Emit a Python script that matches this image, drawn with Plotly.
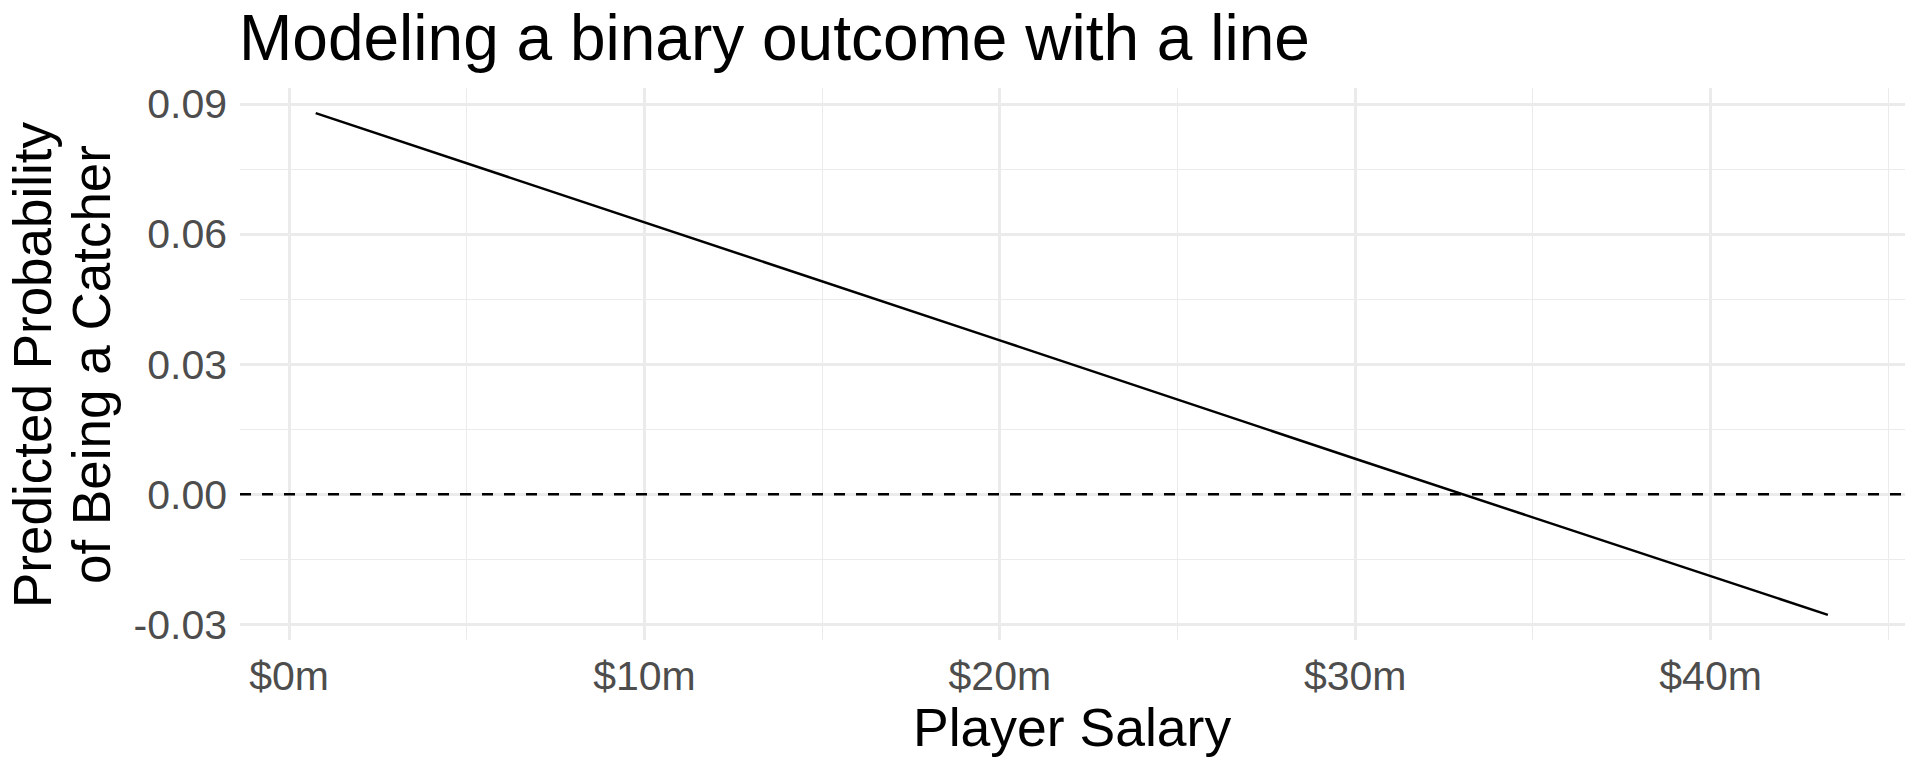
import plotly.graph_objects as go

# Data (salary in $ millions, predicted probability)
salary_m = [0.75, 10.0, 20.0, 30.0, 43.3]
pred_prob = [0.0879, 0.0628, 0.0355, 0.0082, -0.0278]

x_tickvals = [0, 10, 20, 30, 40]
x_ticktext = ["$0m", "$10m", "$20m", "$30m", "$40m"]
y_tickvals = [-0.03, 0.00, 0.03, 0.06, 0.09]
y_ticktext = ["-0.03", "0.00", "0.03", "0.06", "0.09"]
x_minor = [5, 15, 25, 35, 45]
y_minor = [-0.015, 0.015, 0.045, 0.075]

FONT = "Liberation Sans, Arial, Helvetica, sans-serif"
GRID = "#EBEBEB"

fig = go.Figure()
fig.add_trace(go.Scatter(x=salary_m, y=pred_prob, mode="lines",
                         line=dict(color="black", width=2.5), showlegend=False,
                         hoverinfo="skip"))

fig.add_hline(y=0, line=dict(color="black", width=2.5, dash="11px,11px"))

W, H = 1920, 768
L, R, T, B = 240, 15, 88, 128

fig.update_layout(
    width=W, height=H,
    margin=dict(l=L, r=R, t=T, b=B, pad=0),
    paper_bgcolor="white", plot_bgcolor="white",
    font=dict(family=FONT, color="black"),
    showlegend=False,
)

fig.update_xaxes(
    range=[-1.38, 45.47], tickvals=x_tickvals, ticktext=x_ticktext,
    showgrid=True, gridcolor=GRID, gridwidth=2.6, zeroline=False,
    showline=False, ticks="", ticklabelstandoff=8,
    tickfont=dict(family=FONT, size=41, color="#4D4D4D"),
    minor=dict(tickvals=x_minor, showgrid=True, gridcolor=GRID, gridwidth=1.3),
)
fig.update_yaxes(
    range=[-0.0336, 0.0937], tickvals=y_tickvals, ticktext=y_ticktext,
    showgrid=True, gridcolor=GRID, gridwidth=2.6, zeroline=False,
    showline=False, ticks="", ticklabelstandoff=12,
    tickfont=dict(family=FONT, size=41, color="#4D4D4D"),
    minor=dict(tickvals=y_minor, showgrid=True, gridcolor=GRID, gridwidth=1.3),
)

PW = W - L - R
PH = H - T - B

def px_x(p):
    return (p - L) / PW

def px_y(p):
    return 1 - (p - T) / PH

annotations = [
    dict(text="Modeling a binary outcome with a line", xref="paper", yref="paper",
         x=px_x(237), y=px_y(0), xanchor="left", yanchor="top", showarrow=False,
         font=dict(family=FONT, size=64, color="black")),
    dict(text="Player Salary", xref="paper", yref="paper",
         x=px_x(1072), y=px_y(727), xanchor="center", yanchor="middle", showarrow=False,
         font=dict(family=FONT, size=53.5, color="black")),
    dict(text="Predicted Probability", xref="paper", yref="paper",
         x=px_x(32), y=px_y(365), xanchor="center", yanchor="middle", textangle=-90,
         showarrow=False, font=dict(family=FONT, size=53, color="black")),
    dict(text="of Being a Catcher", xref="paper", yref="paper",
         x=px_x(91), y=px_y(365), xanchor="center", yanchor="middle", textangle=-90,
         showarrow=False, font=dict(family=FONT, size=53, color="black")),
]
fig.update_layout(annotations=annotations)

fig.write_html("out.html",
               config={"displayModeBar": False},
               post_script="document.body.style.margin='0';document.body.style.overflow='hidden';")
